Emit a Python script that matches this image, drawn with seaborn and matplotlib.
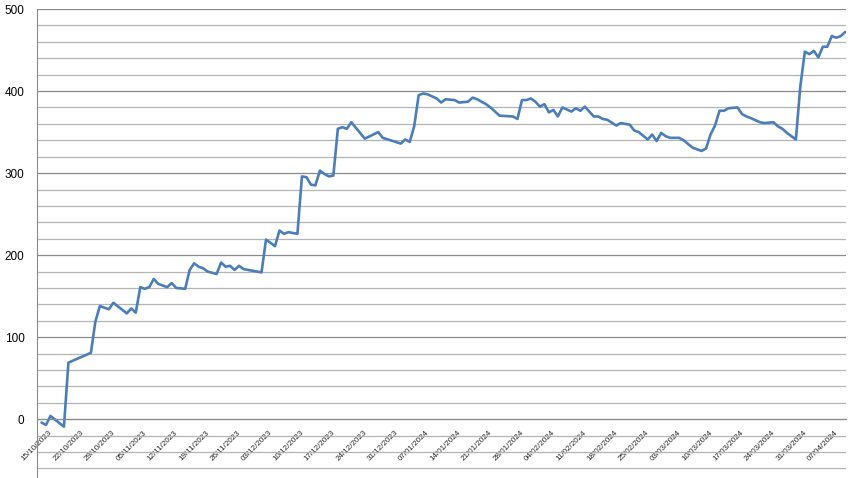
# grafico de linha - evolucao diaria

import pandas as pd
import matplotlib
matplotlib.use('Agg')
import matplotlib.pyplot as plt
import seaborn as sns

sns.set_style('white')
plt.rcParams['font.family'] = ['Liberation Sans', 'DejaVu Sans']

# Dados
datas = [
    '2023-10-16', '2023-10-17', '2023-10-18', '2023-10-21', '2023-10-22', '2023-10-27',
    '2023-10-28', '2023-10-29', '2023-10-31', '2023-11-01', '2023-11-04', '2023-11-05',
    '2023-11-06', '2023-11-07', '2023-11-08', '2023-11-09', '2023-11-10', '2023-11-11',
    '2023-11-13', '2023-11-14', '2023-11-15', '2023-11-17', '2023-11-18', '2023-11-19',
    '2023-11-20', '2023-11-21', '2023-11-22', '2023-11-24', '2023-11-25', '2023-11-26',
    '2023-11-27', '2023-11-28', '2023-11-29', '2023-11-30', '2023-12-04', '2023-12-05',
    '2023-12-07', '2023-12-08', '2023-12-09', '2023-12-10', '2023-12-12', '2023-12-13',
    '2023-12-14', '2023-12-15', '2023-12-16', '2023-12-17', '2023-12-18', '2023-12-19',
    '2023-12-20', '2023-12-21', '2023-12-22', '2023-12-23', '2023-12-24', '2023-12-27',
    '2023-12-30', '2023-12-31', '2024-01-04', '2024-01-05', '2024-01-06', '2024-01-07',
    '2024-01-08', '2024-01-09', '2024-01-10', '2024-01-12', '2024-01-13', '2024-01-14',
    '2024-01-16', '2024-01-17', '2024-01-19', '2024-01-20', '2024-01-21', '2024-01-23',
    '2024-01-24', '2024-01-26', '2024-01-29', '2024-01-30', '2024-01-31', '2024-02-01',
    '2024-02-02', '2024-02-03', '2024-02-04', '2024-02-05', '2024-02-06', '2024-02-07',
    '2024-02-08', '2024-02-09', '2024-02-11', '2024-02-12', '2024-02-13', '2024-02-14',
    '2024-02-16', '2024-02-17', '2024-02-18', '2024-02-19', '2024-02-21', '2024-02-22',
    '2024-02-24', '2024-02-25', '2024-02-26', '2024-02-28', '2024-02-29', '2024-03-01',
    '2024-03-02', '2024-03-03', '2024-03-04', '2024-03-06', '2024-03-07', '2024-03-09',
    '2024-03-10', '2024-03-11', '2024-03-12', '2024-03-13', '2024-03-14', '2024-03-15',
    '2024-03-16', '2024-03-17', '2024-03-19', '2024-03-20', '2024-03-21', '2024-03-22',
    '2024-03-24', '2024-03-25', '2024-03-27', '2024-03-28', '2024-03-29', '2024-03-30',
    '2024-04-01', '2024-04-02', '2024-04-03', '2024-04-04', '2024-04-05', '2024-04-06',
    '2024-04-07', '2024-04-08', '2024-04-09', '2024-04-10', '2024-04-11', '2024-04-12',
]
valores = [
    -4, -7, 4, -9, 69, 81,
    119, 138, 134, 142, 129, 135,
    130, 161, 159, 161, 171, 165,
    161, 166, 160, 159, 182, 190,
    186, 184, 180, 177, 191, 186,
    187, 182, 187, 183, 179, 219,
    211, 230, 226, 228, 226, 296,
    295, 286, 285, 303, 299, 296,
    297, 354, 356, 354, 362, 342,
    350, 343, 336, 341, 338, 357,
    395, 397, 396, 391, 386, 390,
    389, 386, 387, 392, 390, 384,
    380, 370, 369, 366, 389, 389,
    391, 387, 381, 384, 374, 377,
    369, 380, 375, 379, 376, 381,
    369, 369, 366, 365, 358, 361,
    359, 352, 350, 341, 347, 339,
    349, 345, 343, 343, 340, 331,
    329, 327, 330, 347, 358, 376,
    376, 379, 380, 372, 369, 367,
    362, 361, 362, 357, 354, 349,
    341, 406, 448, 445, 449, 441,
    454, 454, 467, 465, 467, 472,
]

df = pd.DataFrame({'data': pd.to_datetime(datas), 'valor': valores})

fig = plt.figure(figsize=(8.56, 4.78), dpi=100)
ax = fig.add_axes([37 / 856, 0.0, (846 - 37) / 856, 1 - 9 / 478])

sns.lineplot(data=df, x='data', y='valor', color='#4a7ebb', linewidth=1.9, ax=ax)

# eixos
inicio = pd.Timestamp('2023-10-15')
ax.set_xlim(inicio, pd.Timestamp('2024-04-12 04:00'))
ax.set_ylim(-71.6, 500)

ax.set_yticks(range(0, 501, 100))
ax.set_yticks([v for v in range(-60, 501, 20) if v % 100 != 0], minor=True)
ax.grid(which='major', axis='y', color='#8a8a8a', linewidth=0.9)
ax.grid(which='minor', axis='y', color='#b4b4b4', linewidth=0.9)
ax.tick_params(axis='y', which='major', length=3, width=0.8, color='#8a8a8a',
               labelsize=8.5, pad=6, labelcolor='black')
ax.tick_params(axis='y', which='minor', length=0)

semanas = pd.date_range(inicio, '2024-04-07', freq='7D')
ax.set_xticks(semanas)
ax.set_xticklabels([d.strftime('%d/%m/%Y') for d in semanas])
ax.tick_params(axis='x', length=4, width=0.8, color='#8a8a8a', labelsize=5.8,
               pad=3, labelrotation=45)
for rotulo in ax.get_xticklabels():
    rotulo.set_ha('right')
    rotulo.set_va('center')
    rotulo.set_rotation_mode('anchor')

ax.spines['bottom'].set_position(('data', 0))
ax.spines['bottom'].set_color('#8a8a8a')
ax.spines['left'].set_color('#8a8a8a')
ax.spines['top'].set_visible(False)
ax.spines['right'].set_visible(False)
ax.set_xlabel('')
ax.set_ylabel('')

plt.savefig('out.png', dpi=100)
plt.close()
